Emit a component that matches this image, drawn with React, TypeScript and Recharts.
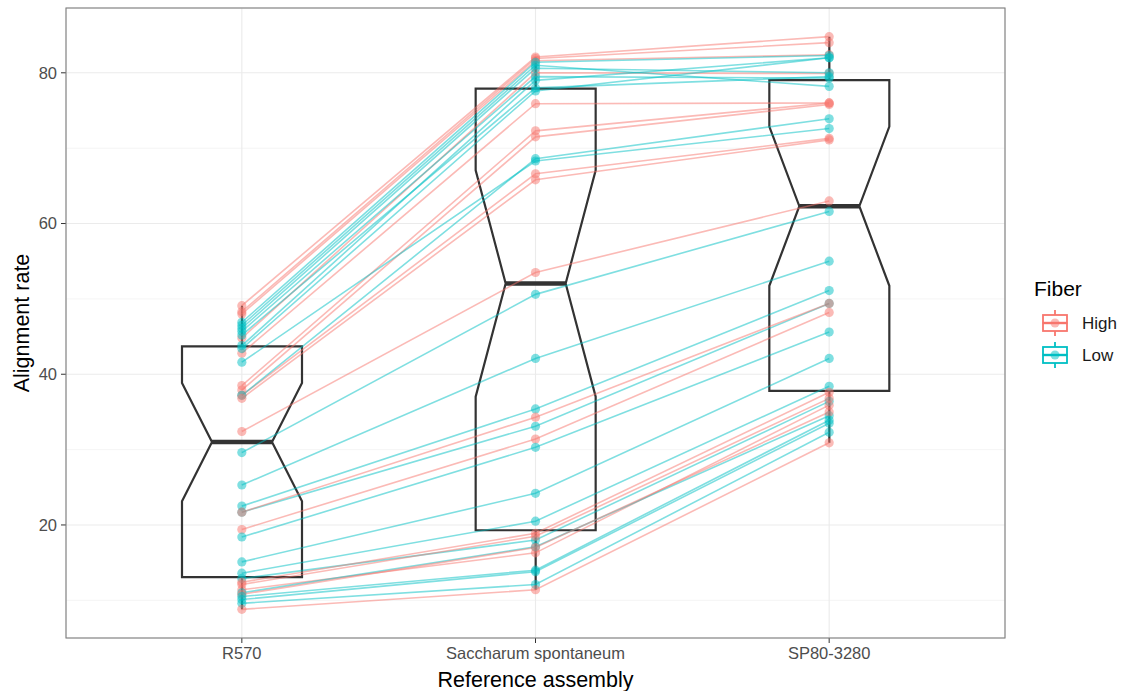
import React from 'react';
import { ComposedChart, Line, Bar, XAxis, YAxis, CartesianGrid } from 'recharts';

// Reference assemblies (x categories)
const assemblies = ['R570', 'Saccharum spontaneum', 'SP80-3280'];

// Per-sample fiber group and alignment rate (%) against each assembly
const fiber = [
  'High', 'High', 'High', 'High', 'High', 'Low', 'Low', 'Low', 'Low', 'Low', 'Low', 'Low',
  'High', 'High', 'High', 'Low', 'High', 'Low',
  'High', 'Low', 'Low', 'Low', 'Low', 'High', 'High', 'Low', 'Low',
  'Low', 'Low', 'High', 'High', 'High', 'Low', 'High', 'Low', 'Low', 'Low', 'High',
];
const r570 = [
  49.1, 48.3, 48.0, 44.8, 42.8, 46.9, 46.5, 46.1, 45.7, 45.2, 43.4, 43.8,
  38.5, 37.9, 37.2, 37.2, 36.8, 41.6,
  32.4, 29.6, 25.3, 22.5, 21.7, 21.7, 19.4, 18.4, 15.1,
  13.6, 12.9, 12.4, 12.1, 11.4, 11.0, 10.8, 10.5, 10.1, 9.6, 8.8,
];
const spontaneum = [
  82.1, 81.9, 81.6, 80.0, 75.9, 81.4, 81.0, 80.6, 79.5, 78.0, 77.6, 79.0,
  72.3, 71.5, 66.6, 68.6, 65.8, 68.3,
  53.5, 50.6, 42.1, 35.4, 33.1, 34.3, 31.4, 30.3, 24.2,
  20.5, 18.0, 18.9, 18.5, 16.3, 17.1, 17.0, 14.0, 13.8, 12.1, 11.4,
];
const sp80 = [
  84.8, 84.0, 82.4, 79.9, 76.0, 82.3, 78.2, 80.0, 79.3, 79.5, 82.0, 82.0,
  76.0, 75.8, 71.3, 73.9, 71.1, 72.6,
  63.0, 61.6, 55.0, 51.1, 49.4, 49.4, 48.2, 45.6, 42.1,
  38.4, 36.4, 37.6, 36.8, 35.9, 34.5, 35.0, 33.9, 33.5, 32.3, 30.9,
];

const yTicks = [20, 40, 60, 80];
const yMinorTicks = [10, 30, 50, 70];
const fiberLevels = ['High', 'Low'];
const fiberColors: Record<string, string> = { High: '#F8766D', Low: '#00BFC4' };

const seriesByAssembly = [r570, spontaneum, sp80];

// type-7 quantile, as in R
function quantile(sorted: number[], p: number) {
  const h = (sorted.length - 1) * p;
  const lo = Math.floor(h);
  const hi = Math.ceil(h);
  return sorted[lo] + (h - lo) * (sorted[hi] - sorted[lo]);
}

function boxStats(values: number[]) {
  const s = [...values].sort((a, b) => a - b);
  const q1 = quantile(s, 0.25);
  const med = quantile(s, 0.5);
  const q3 = quantile(s, 0.75);
  const iqr = q3 - q1;
  const lo = Math.min(...s.filter((v) => v >= q1 - 1.5 * iqr));
  const hi = Math.max(...s.filter((v) => v <= q3 + 1.5 * iqr));
  const notch = (1.58 * iqr) / Math.sqrt(s.length);
  return { q1, med, q3, lo, hi, notchLo: med - notch, notchHi: med + notch };
}

const chartData = assemblies.map((name, ci) => {
  const vals = seriesByAssembly[ci];
  const stats = boxStats(vals);
  const row: Record<string, any> = { name, box: [stats.lo, stats.hi], stats };
  vals.forEach((v, i) => {
    row[`s${i}`] = v;
  });
  return row;
});

const allValues = seriesByAssembly.flat();
const dMin = Math.min(...allValues);
const dMax = Math.max(...allValues);
const pad = (dMax - dMin) * 0.05;
const yDomain = [dMin - pad, dMax + pad];

const INK = '#333333';
const BOX_W = 2.2;

function NotchedBox(props: any) {
  const { x, y, width, height, payload } = props;
  const st = payload.stats;
  const top = Math.min(y, y + height);
  const bottom = Math.max(y, y + height);
  const toPx = (v: number) => top + ((st.hi - v) / (st.hi - st.lo)) * (bottom - top);
  const left = x;
  const right = x + width;
  const cx = x + width / 2;
  const nw = width / 4;
  const yq1 = toPx(st.q1);
  const yq3 = toPx(st.q3);
  const ym = toPx(st.med);
  const ynl = toPx(st.notchLo);
  const ynh = toPx(st.notchHi);
  const pts = [
    [left, yq3], [right, yq3], [right, ynh], [cx + nw, ym], [right, ynl],
    [right, yq1], [left, yq1], [left, ynl], [cx - nw, ym], [left, ynh],
  ].map((p) => p.join(',')).join(' ');
  return (
    <g>
      <line x1={cx} x2={cx} y1={toPx(st.hi)} y2={yq3} stroke={INK} strokeWidth={BOX_W} />
      <line x1={cx} x2={cx} y1={yq1} y2={toPx(st.lo)} stroke={INK} strokeWidth={BOX_W} />
      <polygon points={pts} fill="none" stroke={INK} strokeWidth={BOX_W} strokeLinejoin="miter" />
      <line x1={cx - nw} x2={cx + nw} y1={ym} y2={ym} stroke={INK} strokeWidth={BOX_W * 2} />
    </g>
  );
}

function LegendKey({ color, cy }: { color: string; cy: number }) {
  const cx = 1055;
  return (
    <g>
      <line x1={cx} x2={cx} y1={cy - 13} y2={cy + 13} stroke={color} strokeWidth={1.8} />
      <rect x={cx - 12} y={cy - 8} width={24} height={16} fill="#fff" stroke={color} strokeWidth={1.8} />
      <line x1={cx - 12} x2={cx + 12} y1={cy} y2={cy} stroke={color} strokeWidth={2.4} />
      <line x1={cx - 13} x2={cx + 13} y1={cy} y2={cy} stroke={color} strokeOpacity={0.5} strokeWidth={1.6} />
      <circle cx={cx} cy={cy} r={4.5} fill={color} fillOpacity={0.5} />
    </g>
  );
}

const FONT = '"Liberation Sans", Arial, Helvetica, sans-serif';

export default function App() {
  return (
    <div style={{ position: 'absolute', left: 0, top: 0, width: 1121, height: 691, background: '#fff', fontFamily: FONT }}>
      <ComposedChart
        width={1121}
        height={691}
        data={chartData}
        margin={{ top: 8, right: 116, bottom: 0, left: 0 }}
      >
        <CartesianGrid
          horizontalValues={yMinorTicks}
          vertical={false}
          stroke="#f1f1f1"
          strokeWidth={0.8}
        />
        <CartesianGrid stroke="#ebebeb" strokeWidth={1.1} />
        <XAxis
          dataKey="name"
          padding={{ left: 29, right: 29 }}
          axisLine={false}
          tickLine={{ stroke: INK }}
          tickSize={5}
          tickMargin={4}
          height={53}
          tick={{ fill: '#4d4d4d', fontSize: 16.5, fontFamily: FONT }}
        />
        <YAxis
          type="number"
          domain={yDomain}
          ticks={yTicks}
          allowDataOverflow
          axisLine={false}
          tickLine={{ stroke: INK }}
          tickSize={5}
          tickMargin={4}
          width={66}
          tick={{ fill: '#4d4d4d', fontSize: 16.5, fontFamily: FONT }}
        />
        <Bar dataKey="box" barSize={120} fill="none" shape={<NotchedBox />} isAnimationActive={false} />
        {fiber.map((f, i) => (
          <Line
            key={i}
            type="linear"
            dataKey={`s${i}`}
            stroke={fiberColors[f]}
            strokeOpacity={0.5}
            strokeWidth={1.6}
            dot={{ r: 4.6, fill: fiberColors[f], fillOpacity: 0.5, stroke: 'none', strokeWidth: 0 }}
            activeDot={false}
            isAnimationActive={false}
          />
        ))}
      </ComposedChart>
      <svg
        width={1121}
        height={691}
        style={{ position: 'absolute', left: 0, top: 0, pointerEvents: 'none', fontFamily: FONT }}
      >
        <rect x={66} y={8} width={939} height={630} fill="none" stroke="#7f7f7f" strokeWidth={1.1} />
        <text x={535.5} y={687} textAnchor="middle" fontSize={21.5} fill="#000">Reference assembly</text>
        <text
          transform="translate(29,323) rotate(-90)"
          textAnchor="middle"
          fontSize={21.5}
          fill="#000"
        >
          Alignment rate
        </text>
        <text x={1034} y={296} fontSize={21} fill="#000">Fiber</text>
        {fiberLevels.map((lv, i) => (
          <g key={lv}>
            <LegendKey color={fiberColors[lv]} cy={323 + i * 32} />
            <text x={1082} y={323 + i * 32} dy="0.35em" fontSize={17} fill="#1a1a1a">{lv}</text>
          </g>
        ))}
      </svg>
    </div>
  );
}
